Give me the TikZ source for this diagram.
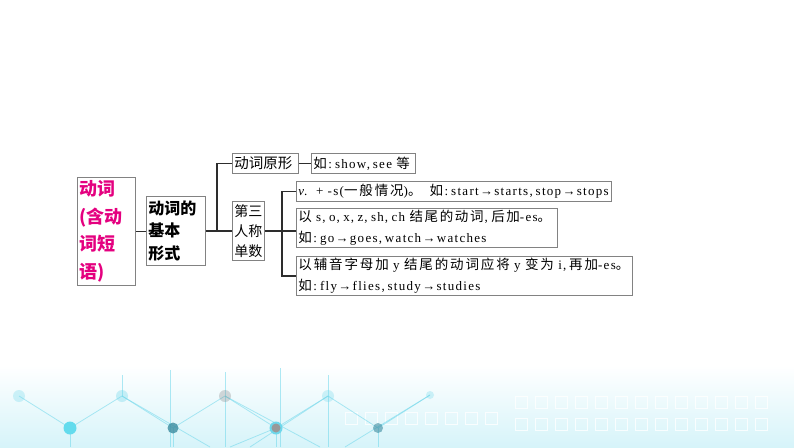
\documentclass[tikz,border=0pt]{standalone}
\usepackage{fontspec}
\setmainfont[LetterSpace=10]{Liberation Serif}
\newfontfamily\cjk{Noto Sans CJK SC}
\newfontfamily\cjkt[LetterSpace=12]{Noto Sans CJK SC}
\newfontfamily\cjkw[LetterSpace=14]{Noto Sans CJK SC}
\newcommand\zh[1]{{\cjkt\fontsize{13.5}{20}\selectfont #1}}
\newcommand\zw[1]{{\cjkw\fontsize{13.5}{20}\selectfont #1}}
\newcommand\mycomma{,\hspace{2.8pt}}
\newcommand\bcomma{\hspace{1pt},\hspace{3.5pt}}
\newcommand\mycolon{\hspace{1.5pt}:\hspace{3pt}}
\newcommand\myarr{→}
\definecolor{mag}{RGB}{228,0,127}
\definecolor{boxgray}{RGB}{130,130,130}
\definecolor{linec}{RGB}{45,45,45}
\definecolor{deco}{RGB}{110,215,235}
\definecolor{decodark}{RGB}{60,140,160}
\begin{document}
\begin{tikzpicture}[x=1pt,y=-1pt,
  box/.style={draw=boxgray,line width=0.8pt,inner xsep=2pt,inner ysep=0pt,anchor=north west,align=left},
  txt/.style={font=\fontsize{13}{20.5}\selectfont},
  conn/.style={draw=linec,line width=1.3pt},
  dline/.style={draw=deco,line width=0.8pt,opacity=0.55},
  dsq/.style={draw=white,line width=1pt,opacity=0.8}]
\useasboundingbox (0,0) rectangle (794,447);
% background decoration
\shade[top color=white,bottom color=deco!28] (0,365) rectangle (794,447);
\foreach \x in {345,365,...,500} {\draw[dsq] (\x,412) rectangle +(12,12);}
\foreach \x in {515,535,...,770} {\draw[dsq] (\x,396) rectangle +(12,12); \draw[dsq] (\x,418) rectangle +(12,12);}
\draw[dline] (19,396) -- (70,428) -- (122,396) -- (173,428) -- (225,396) -- (276,428) -- (328,396) -- (378,428) -- (430,395);
\draw[dline] (122,396) -- (210,447) (225,396) -- (320,447) (328,396) -- (250,447) (276,428) -- (230,447) (430,395) -- (345,447);
\draw[dline] (173,428) -- (173,447) (276,428) -- (276,447) (70,428) -- (70,447) (225,396) -- (225,447) (328,396) -- (328,447) (378,428) -- (378,447);
\draw[dline] (122,396) -- (122,375) (225,396) -- (225,372) (328,396) -- (328,375) (170,370) -- (170,447) (280,368) -- (280,447);
\fill[deco,opacity=0.3] (19,396) circle (6);
\fill[deco,opacity=0.35] (122,396) circle (6);
\fill[gray,opacity=0.3] (225,396) circle (6);
\fill[deco,opacity=0.3] (328,396) circle (6);
\fill[deco,opacity=0.3] (430,395) circle (4);
\fill[deco!90!cyan] (70,428) circle (6.5);
\fill[decodark,opacity=0.8] (173,428) circle (5.5);
\fill[deco] (276,428) circle (6.5);
\fill[gray!80] (276,428) circle (4.5);
\fill[decodark,opacity=0.6] (378,428) circle (5);
% boxes
\node[box,minimum width=58,minimum height=108,text width=54,text=mag,
  font=\cjk\bfseries\fontsize{18}{27.5}\selectfont] (b1) at (77,177)
  {动词\\(含动\\词短\\语)};
\node[box,minimum width=59,minimum height=69,text width=55,
  font=\cjk\bfseries\fontsize{16}{22.5}\selectfont] (b2) at (146,196)
  {动词的\\基本\\形式};
\node[box,minimum width=66,minimum height=20,text width=62,
  font=\cjk\fontsize{14.5}{18}\selectfont] (yuan) at (232,153)
  {动词原形};
\node[box,txt,minimum width=104,minimum height=20,text width=100] (ru) at (311,153)
  {\mbox{\zh{如}\mycolon show\mycomma see \zh{等}}};
\node[box,minimum width=32,minimum height=59,text width=28,
  font=\cjk\fontsize{14}{20}\selectfont] (b3) at (232,201)
  {第三\\人称\\单数};
\node[box,txt,minimum width=315,minimum height=20,text width=311] (bA) at (296,181)
  {\mbox{\textit{v}.\ \ + -s(\zw{一般情况})\zh{。}\hspace{8pt}\zh{如}\mycolon start\myarr starts\mycomma stop\myarr stops}};
\node[box,txt,minimum width=261,minimum height=39,text width=257] (bB) at (296,208)
  {\mbox{\zh{以} s\bcomma o\bcomma x\bcomma z\bcomma sh\bcomma ch \zh{结尾的动词}\bcomma\zh{后加}-es\zh{。}}\\\mbox{\zh{如}\mycolon go\myarr goes\mycomma watch\myarr watches}};
\node[box,txt,minimum width=336,minimum height=39,text width=332] (bC) at (296,256)
  {\mbox{\zw{以辅音字母加} y \zw{结尾的动词应将} y \zw{变为} i\mycomma\zw{再加}-es\zh{。}}\\\mbox{\zh{如}\mycolon fly\myarr flies\mycomma study\myarr studies}};
% connectors
\coordinate (j1) at (217,230.5);
\coordinate (j2) at (282,230.5);
\draw[conn] (b1.east) -- (b1.east -| b2.west);
\draw[conn] (b2.east) -- (b3.west);
\draw[conn] (yuan.west) -| (j1);
\draw[conn] (yuan.east) -- (ru.west);
\draw[conn] (b3.east) -- (b3.east -| bB.west);
\draw[conn] (bA.west) -| (j2) |- (bC.west);
\end{tikzpicture}
\end{document}
